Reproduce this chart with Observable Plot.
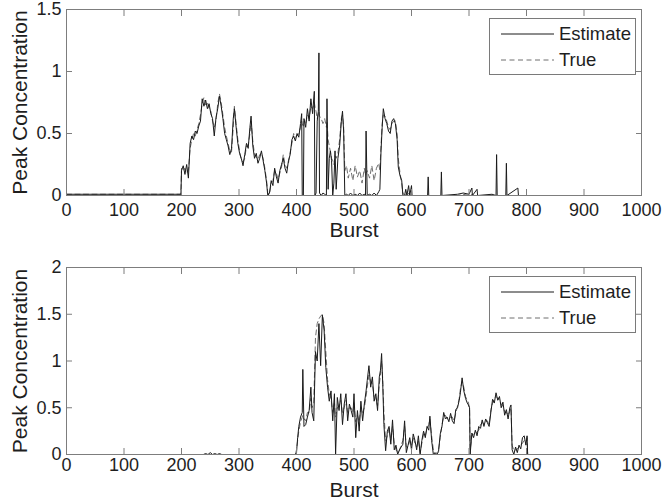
<!DOCTYPE html>
<html>
<head>
<meta charset="utf-8">
<script src="https://cdn.jsdelivr.net/npm/d3@7"></script>
<script src="https://cdn.jsdelivr.net/npm/@observablehq/plot@0.6"></script>
<style>
  html, body { margin: 0; padding: 0; background: #fff; }
  #wrap { position: relative; width: 662px; height: 504px; font-family: "Liberation Sans", Arial, Helvetica, sans-serif; }
  #wrap svg { display: block; }
  .legend { position: absolute; left: 489px; width: 145px; height: 55px; border: 1px solid #7a7a7a; background: #fff; }
  .legend svg { position: absolute; left: 0; top: 0; }
</style>
</head>
<body>
<div id="wrap"></div>
<script>
// ---------- data ----------
const xTicks = [0, 100, 200, 300, 400, 500, 600, 700, 800, 900, 1000];
const yTicksTop = [0, 0.5, 1, 1.5];
const yTicksBottom = [0, 0.5, 1, 1.5, 2];
const seriesNames = ["Estimate", "True"];
const xLabel = "Burst";
const yLabel = "Peak Concentration";

const topBurst = [
  0, 199, 200, 203, 206, 209, 212, 215, 218, 221,
  224, 227, 230, 233, 236, 239, 242, 245, 248, 251,
  254, 257, 260, 263, 266, 269, 272, 275, 278, 281,
  284, 287, 290, 292, 295, 298, 301, 304, 307, 310,
  313, 316, 319, 321, 324, 327, 330, 333, 336, 339,
  342, 345, 348, 350, 353, 356, 359, 362, 365, 368,
  371, 374, 377, 380, 383, 386, 389, 392, 395, 398,
  401, 404, 407, 409, 410, 412, 413, 416, 419, 422,
  425, 428, 431, 432, 434, 436, 438, 439, 440, 443,
  446, 449, 452, 453, 455, 457, 459, 461, 463, 465,
  467, 469, 472, 475, 478, 480, 482, 484, 487, 490,
  494, 498, 502, 506, 510, 514, 518, 520, 521, 523,
  527, 531, 535, 539, 543, 545, 547, 549, 551, 554,
  557, 560, 563, 566, 569, 572, 575, 577, 580, 583,
  585, 588, 590, 592, 595, 597, 600, 601, 628, 629,
  630, 651, 652, 653, 680, 690, 700, 705, 706, 714,
  715, 740, 747, 748, 749, 764, 765, 766, 785, 786,
  1000
];
const topEstimate = [
  0.01, 0.01, 0.20, 0.24, 0.17, 0.25, 0.14, 0.42, 0.48, 0.45,
  0.52, 0.50, 0.56, 0.60, 0.78, 0.72, 0.77, 0.70, 0.74, 0.66,
  0.62, 0.48, 0.63, 0.70, 0.80, 0.72, 0.62, 0.50, 0.45, 0.40,
  0.33, 0.38, 0.62, 0.70, 0.55, 0.42, 0.34, 0.30, 0.24, 0.33,
  0.42, 0.38, 0.55, 0.64, 0.40, 0.30, 0.34, 0.26, 0.30, 0.36,
  0.28, 0.20, 0.10, 0.00, 0.02, 0.12, 0.08, 0.22, 0.15, 0.10,
  0.20, 0.25, 0.30, 0.22, 0.18, 0.28, 0.33, 0.45, 0.48, 0.44,
  0.50, 0.47, 0.58, 0.66, 0.00, 0.00, 0.62, 0.55, 0.70, 0.60,
  0.78, 0.66, 0.84, 0.00, 0.02, 0.60, 0.68, 1.15, 0.02, 0.00,
  0.02, 0.01, 0.00, 0.78, 0.05, 0.30, 0.36, 0.28, 0.00, 0.10,
  0.36, 0.05, 0.30, 0.40, 0.60, 0.68, 0.52, 0.00, 0.01, 0.00,
  0.02, 0.00, 0.01, 0.00, 0.02, 0.00, 0.01, 0.00, 0.52, 0.00,
  0.01, 0.00, 0.02, 0.00, 0.03, 0.05, 0.36, 0.55, 0.70, 0.62,
  0.58, 0.52, 0.50, 0.60, 0.62, 0.58, 0.45, 0.23, 0.16, 0.12,
  0.00, 0.00, 0.05, 0.00, 0.08, 0.00, 0.08, 0.00, 0.00, 0.15,
  0.00, 0.00, 0.19, 0.00, 0.01, 0.02, 0.01, 0.06, 0.00, 0.05,
  0.00, 0.01, 0.00, 0.33, 0.00, 0.00, 0.26, 0.00, 0.06, 0.00,
  0.00
];
const topTrue = [
  0.01, 0.01, 0.22, 0.20, 0.22, 0.18, 0.20, 0.38, 0.45, 0.50,
  0.48, 0.53, 0.58, 0.65, 0.74, 0.79, 0.73, 0.75, 0.70, 0.68,
  0.60, 0.55, 0.60, 0.74, 0.82, 0.75, 0.65, 0.55, 0.48, 0.42,
  0.36, 0.35, 0.55, 0.72, 0.58, 0.45, 0.36, 0.28, 0.27, 0.30,
  0.40, 0.41, 0.50, 0.60, 0.44, 0.33, 0.31, 0.29, 0.33, 0.34,
  0.30, 0.22, 0.12, 0.02, 0.01, 0.10, 0.12, 0.20, 0.18, 0.13,
  0.18, 0.23, 0.33, 0.25, 0.22, 0.26, 0.35, 0.42, 0.50, 0.47,
  0.48, 0.50, 0.55, 0.60, 0.58, 0.55, 0.60, 0.58, 0.65, 0.62,
  0.72, 0.70, 0.75, 0.72, 0.68, 0.62, 0.66, 0.68, 0.64, 0.62,
  0.58, 0.62, 0.55, 0.60, 0.45, 0.40, 0.35, 0.30, 0.28, 0.25,
  0.32, 0.30, 0.34, 0.45, 0.62, 0.65, 0.55, 0.20, 0.24, 0.14,
  0.22, 0.12, 0.24, 0.15, 0.20, 0.10, 0.22, 0.16, 0.18, 0.20,
  0.14, 0.24, 0.12, 0.22, 0.26, 0.20, 0.40, 0.58, 0.65, 0.64,
  0.60, 0.55, 0.53, 0.58, 0.60, 0.60, 0.50, 0.30, 0.18, 0.10,
  0.02, 0.00, 0.01, 0.00, 0.02, 0.00, 0.01, 0.00, 0.00, 0.00,
  0.00, 0.00, 0.00, 0.00, 0.00, 0.01, 0.00, 0.01, 0.00, 0.00,
  0.00, 0.00, 0.00, 0.00, 0.00, 0.00, 0.00, 0.00, 0.00, 0.00,
  0.00
];

const bottomBurst = [
  0, 238, 242, 246, 250, 254, 258, 262, 266, 270,
  398, 400, 402, 404, 407, 410, 411, 413, 416, 419,
  422, 425, 427, 430, 433, 436, 439, 442, 445, 448,
  451, 454, 457, 460, 463, 466, 468, 471, 474, 477,
  480, 483, 486, 489, 492, 495, 498, 500, 503, 506,
  509, 512, 515, 518, 521, 523, 526, 529, 532, 535,
  538, 541, 544, 546, 548, 550, 552, 555, 558, 561,
  564, 567, 570, 573, 576, 579, 582, 585, 588, 591,
  594, 597, 600, 603, 606, 609, 612, 615, 618, 621,
  624, 627, 630, 632, 635, 638, 641, 644, 647, 650,
  653, 656, 659, 662, 665, 668, 671, 674, 677, 680,
  683, 685, 688, 691, 694, 697, 699, 701, 702, 705,
  708, 711, 714, 717, 720, 723, 726, 729, 732, 735,
  738, 741, 744, 747, 750, 753, 756, 759, 762, 765,
  768, 771, 773, 775, 778, 781, 784, 787, 790, 793,
  796, 799, 801, 802, 1000
];
const bottomEstimate = [
  0.00, 0.00, 0.01, 0.00, 0.02, 0.00, 0.01, 0.00, 0.01, 0.00,
  0.00, 0.02, 0.18, 0.30, 0.40, 0.45, 0.91, 0.30, 0.32, 0.40,
  0.47, 0.72, 0.45, 0.36, 1.10, 1.00, 1.40, 0.95, 1.49, 1.33,
  0.93, 0.72, 0.57, 0.68, 0.36, 0.65, 0.00, 0.61, 0.47, 0.65,
  0.32, 0.54, 0.65, 0.36, 0.54, 0.47, 0.40, 0.65, 0.18, 0.47,
  0.25, 0.57, 0.36, 0.54, 0.68, 0.79, 0.95, 0.72, 0.83, 0.57,
  0.65, 0.47, 0.83, 0.90, 1.08, 0.75, 0.32, 0.04, 0.25, 0.30,
  0.11, 0.37, 0.05, 0.10, 0.00, 0.05, 0.08, 0.11, 0.36, 0.02,
  0.10, 0.18, 0.05, 0.22, 0.15, 0.05, 0.20, 0.00, 0.15, 0.25,
  0.18, 0.30, 0.26, 0.41, 0.15, 0.00, 0.02, 0.00, 0.03, 0.22,
  0.30, 0.45, 0.38, 0.40, 0.35, 0.44, 0.36, 0.33, 0.48, 0.50,
  0.58, 0.66, 0.82, 0.68, 0.60, 0.55, 0.53, 0.50, 0.00, 0.23,
  0.18, 0.26, 0.20, 0.30, 0.28, 0.37, 0.30, 0.38, 0.34, 0.30,
  0.45, 0.59, 0.55, 0.66, 0.58, 0.62, 0.50, 0.56, 0.42, 0.48,
  0.38, 0.50, 0.53, 0.05, 0.00, 0.08, 0.02, 0.10, 0.06, 0.18,
  0.20, 0.10, 0.20, 0.00, 0.00
];
const bottomTrue = [
  0.00, 0.00, 0.00, 0.00, 0.00, 0.00, 0.00, 0.00, 0.00, 0.00,
  0.00, 0.05, 0.15, 0.25, 0.35, 0.40, 0.42, 0.38, 0.36, 0.45,
  0.45, 0.60, 0.50, 0.55, 1.25, 1.40, 1.45, 1.48, 1.50, 1.40,
  1.10, 0.80, 0.65, 0.60, 0.45, 0.55, 0.40, 0.50, 0.52, 0.58,
  0.45, 0.50, 0.58, 0.45, 0.50, 0.50, 0.45, 0.55, 0.35, 0.42,
  0.35, 0.50, 0.45, 0.50, 0.62, 0.72, 0.85, 0.78, 0.75, 0.62,
  0.60, 0.52, 0.75, 0.85, 1.00, 0.80, 0.45, 0.15, 0.20, 0.28,
  0.15, 0.30, 0.12, 0.05, 0.02, 0.04, 0.10, 0.15, 0.30, 0.08,
  0.08, 0.15, 0.10, 0.18, 0.12, 0.08, 0.15, 0.02, 0.12, 0.22,
  0.20, 0.28, 0.32, 0.38, 0.20, 0.05, 0.00, 0.02, 0.05, 0.18,
  0.32, 0.40, 0.42, 0.38, 0.38, 0.40, 0.40, 0.36, 0.44, 0.52,
  0.60, 0.70, 0.78, 0.72, 0.62, 0.58, 0.56, 0.48, 0.05, 0.20,
  0.22, 0.22, 0.24, 0.26, 0.32, 0.34, 0.33, 0.35, 0.36, 0.32,
  0.48, 0.55, 0.60, 0.62, 0.60, 0.58, 0.54, 0.52, 0.46, 0.45,
  0.42, 0.46, 0.50, 0.10, 0.04, 0.05, 0.06, 0.08, 0.10, 0.12,
  0.15, 0.14, 0.18, 0.00, 0.00
];

// ---------- drawing ----------
const FONT = "'Liberation Sans', Arial, Helvetica, sans-serif";
const TEXT = "#1e1e1e";
const AXIS = "#7d7d7d";
const EST_COLOR = "#1a1a1a";
const TRUE_COLOR = "#6e6e6e";
const DASH = "5,3.5";
const TICK = 6;

function rows(b, e, t) {
  const n = Math.min(b.length, e.length, t.length);
  return d3.range(n).map(i => ({burst: b[i], est: e[i], tru: t[i]}));
}

function panel(data, yDomain, yTicks, marginTop, marginBottom, xPad, labelDy) {
  const fmt = d => String(d);
  const none = () => "";
  return Plot.plot({
    width: 662,
    height: 252,
    marginLeft: 66,
    marginRight: 21,
    marginTop,
    marginBottom,
    style: {fontFamily: FONT, background: "#fff", color: TEXT, overflow: "visible"},
    x: {domain: [0, 1000]},
    y: {domain: yDomain},
    marks: [
      Plot.line(data, {x: "burst", y: "tru", stroke: TRUE_COLOR, strokeWidth: 1, strokeDasharray: DASH}),
      Plot.line(data, {x: "burst", y: "est", stroke: EST_COLOR, strokeWidth: 1}),
      Plot.frame({stroke: AXIS, strokeWidth: 1}),
      // tick labels
      Plot.axisX({ticks: xTicks, tickSize: 0, tickPadding: xPad, tickFormat: fmt, fontSize: 18, label: null, color: TEXT}),
      Plot.axisY({ticks: yTicks, tickSize: 0, tickPadding: 5, tickFormat: fmt, fontSize: 18, label: null, color: TEXT}),
      // inward ticks on all four sides
      Plot.axisX({anchor: "bottom", ticks: xTicks, tickSize: TICK, dy: -TICK, tickFormat: none, label: null, stroke: AXIS}),
      Plot.axisX({anchor: "top", ticks: xTicks, tickSize: TICK, dy: TICK, tickFormat: none, label: null, stroke: AXIS}),
      Plot.axisY({anchor: "left", ticks: yTicks, tickSize: TICK, dx: TICK, tickFormat: none, label: null, stroke: AXIS}),
      Plot.axisY({anchor: "right", ticks: yTicks, tickSize: TICK, dx: -TICK, tickFormat: none, label: null, stroke: AXIS}),
      // axis titles
      Plot.text([xLabel], {frameAnchor: "bottom", lineAnchor: "middle", dy: labelDy, fontSize: 21, fill: TEXT}),
      Plot.text([yLabel], {frameAnchor: "left", rotate: -90, textAnchor: "middle", lineAnchor: "middle", dx: -46, fontSize: 21, fill: TEXT})
    ]
  });
}

function legend(top) {
  const div = document.createElement("div");
  div.className = "legend";
  div.style.top = top + "px";
  const ff = FONT.replace(/'/g, "");
  div.innerHTML =
    `<svg width="145" height="55">
       <line x1="11" x2="64" y1="15" y2="15" stroke="${EST_COLOR}" stroke-width="1"/>
       <line x1="11" x2="64" y1="41" y2="41" stroke="${TRUE_COLOR}" stroke-width="1" stroke-dasharray="${DASH}"/>
       <text x="69" y="15" dy="0.35em" font-size="18.5" fill="${TEXT}" font-family="${ff}">${seriesNames[0]}</text>
       <text x="69" y="41" dy="0.35em" font-size="18.5" fill="${TEXT}" font-family="${ff}">${seriesNames[1]}</text>
     </svg>`;
  return div;
}

const wrap = document.getElementById("wrap");
wrap.appendChild(panel(rows(topBurst, topEstimate, topTrue), [0, 1.5], yTicksTop, 9, 57, 8, 35));
wrap.appendChild(panel(rows(bottomBurst, bottomEstimate, bottomTrue), [0, 2], yTicksBottom, 15, 50, 4, 36));
wrap.appendChild(legend(18));
wrap.appendChild(legend(276));
</script>
</body>
</html>
